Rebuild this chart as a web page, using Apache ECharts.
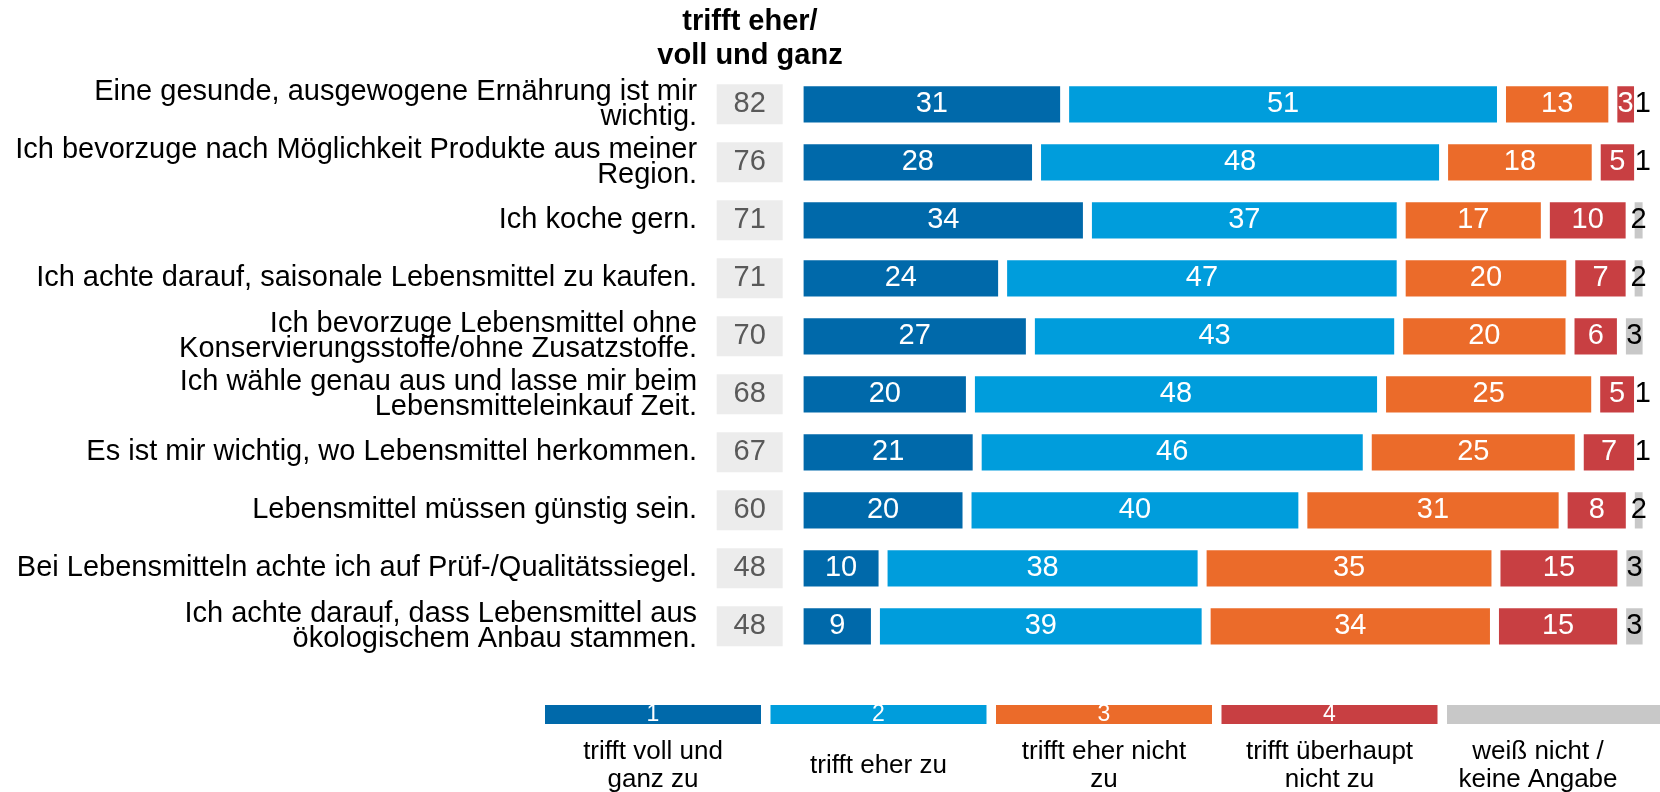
<!DOCTYPE html>
<html>
<head>
<meta charset="utf-8">
<script src="https://cdn.jsdelivr.net/npm/echarts@6/dist/echarts.min.js"></script>
<style>
  html, body { margin: 0; padding: 0; background: #fff; }
  #chart { width: 1660px; height: 792px; }
</style>
</head>
<body>
<div id="chart"></div>
<script>
// statements, top to bottom
var statements = [
  'Eine gesunde, ausgewogene Ernährung ist mir\nwichtig.',
  'Ich bevorzuge nach Möglichkeit Produkte aus meiner\nRegion.',
  'Ich koche gern.',
  'Ich achte darauf, saisonale Lebensmittel zu kaufen.',
  'Ich bevorzuge Lebensmittel ohne\nKonservierungsstoffe/ohne Zusatzstoffe.',
  'Ich wähle genau aus und lasse mir beim\nLebensmitteleinkauf Zeit.',
  'Es ist mir wichtig, wo Lebensmittel herkommen.',
  'Lebensmittel müssen günstig sein.',
  'Bei Lebensmitteln achte ich auf Prüf-/Qualitätssiegel.',
  'Ich achte darauf, dass Lebensmittel aus\nökologischem Anbau stammen.'
];
var topTwo      = [82, 76, 71, 71, 70, 68, 67, 60, 48, 48];
var fullyAgree  = [31, 28, 34, 24, 27, 20, 21, 20, 10, 9];
var ratherAgree = [51, 48, 37, 47, 43, 48, 46, 40, 38, 39];
var ratherNot   = [13, 18, 17, 20, 20, 25, 25, 31, 35, 34];
var notAtAll    = [3, 5, 10, 7, 6, 5, 7, 8, 15, 15];
var dontKnow    = [1, 1, 2, 2, 3, 1, 1, 2, 3, 3];

var legendNums  = ['1', '2', '3', '4', ''];
var legendTexts = ['trifft voll und\nganz zu', 'trifft eher zu', 'trifft eher nicht\nzu', 'trifft überhaupt\nnicht zu', 'weiß nicht /\nkeine Angabe'];
var colors = ['#0069aa', '#009ddc', '#eb6b2a', '#c83f42', '#c8c8c8'];

var font = "'Liberation Sans', Arial, sans-serif";
var groups = [fullyAgree, ratherAgree, ratherNot, notAtAll, dontKnow];

// each row is drawn as 100 % of its own total
var rowSums = statements.map(function (s, i) {
  return groups.reduce(function (acc, g) { return acc + g[i]; }, 0);
});

var chart = echarts.init(document.getElementById('chart'));

var series = groups.map(function (g, gi) {
  return {
    type: 'bar',
    stack: 'all',
    xAxisIndex: 0,
    yAxisIndex: 0,
    barWidth: 45.3,
    silent: true,
    // white border (drawn inside) makes the gaps between segments
    itemStyle: { color: colors[gi], borderColor: '#fff', borderWidth: 4.5 },
    label: {
      show: true,
      position: 'inside',
      color: gi === 4 ? '#000' : '#fff',
      fontSize: 29,
      fontFamily: font,
      formatter: function (p) { return g[p.dataIndex]; }
    },
    data: g.map(function (v, i) { return v / rowSums[i] * 100; })
  };
});

// legend strip drawn as a small bar chart
series.push({
  type: 'bar',
  xAxisIndex: 1,
  yAxisIndex: 2,
  barWidth: 216,
  silent: true,
  label: {
    show: true,
    position: 'inside',
    color: '#fff',
    fontSize: 23,
    fontFamily: font,
    formatter: function (p) { return legendNums[p.dataIndex]; }
  },
  data: legendTexts.map(function (t, i) {
    return { value: 1, itemStyle: { color: colors[i] } };
  })
});

var legendLabel = {
  verticalAlign: 'middle',
  fontSize: 26,
  lineHeight: 28,
  color: '#000',
  fontFamily: font
};

chart.setOption({
  backgroundColor: '#fff',
  animation: false,
  textStyle: { fontFamily: font },
  graphic: [{
    type: 'text',
    x: 750,
    y: 5,
    style: {
      text: 'trifft eher/\nvoll und ganz',
      textAlign: 'center',
      textVerticalAlign: 'top',
      fontSize: 29,
      fontWeight: 'bold',
      fontFamily: font,
      lineHeight: 34,
      fill: '#000'
    }
  }],
  grid: [
    { left: 799.1, top: 75.3, width: 848, height: 580, outerBoundsMode: 'none' },
    { left: 540.25, top: 705, width: 1127.5, height: 19, outerBoundsMode: 'none' }
  ],
  xAxis: [
    { gridIndex: 0, type: 'value', min: 0, max: 100, show: false },
    {
      gridIndex: 1,
      type: 'category',
      data: legendTexts.map(function (t, i) {
        if (i !== 4) return t;
        // last swatch is cut by the page edge, its text sits a bit further left
        return { value: t, textStyle: Object.assign({ padding: [0, 34, 0, 0] }, legendLabel) };
      }),
      axisLine: { show: false },
      axisTick: { show: false },
      axisLabel: Object.assign({ margin: 42, interval: 0 }, legendLabel)
    }
  ],
  yAxis: [
    {
      gridIndex: 0,
      type: 'category',
      inverse: true,
      data: statements,
      axisLine: { show: false },
      axisTick: { show: false },
      axisLabel: {
        margin: 102,
        fontSize: 29,
        lineHeight: 25,
        color: '#000',
        fontFamily: font,
        padding: [0, 0, 10, 0],
        interval: 0
      }
    },
    {
      gridIndex: 0,
      type: 'category',
      inverse: true,
      position: 'left',
      data: statements,
      axisLine: { show: false },
      axisTick: { show: false },
      axisLabel: {
        margin: 16.4,
        interval: 0,
        formatter: function (v, i) { return '{b|' + topTwo[i] + '}'; },
        rich: {
          b: {
            width: 66,
            height: 40,
            align: 'center',
            backgroundColor: '#ececec',
            fontSize: 29,
            color: '#595959',
            fontFamily: font
          }
        }
      }
    },
    { gridIndex: 1, type: 'value', min: 0, max: 1, show: false }
  ],
  series: series
});
</script>
</body>
</html>
